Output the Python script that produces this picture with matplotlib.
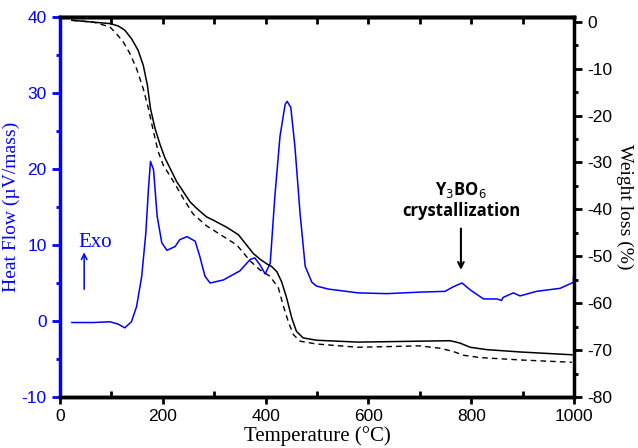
import numpy as np
import matplotlib.pyplot as plt
from matplotlib.ticker import MultipleLocator

plt.rcParams["axes.unicode_minus"] = False

# Heat flow (DTA), left axis
hf_T = [23, 65, 97, 113, 126, 139, 149, 159, 167, 172, 176, 182, 189, 198, 208, 224,
        233, 247, 263, 272, 282, 292, 318, 350, 370, 379, 389, 399, 409, 418, 428,
        438, 442, 449, 457, 467, 477, 490, 499, 522, 580, 636, 700, 749, 765, 782,
        798, 824, 850, 859, 862, 882, 895, 927, 973, 996, 999, 999]
hf_v = [-0.2, -0.2, -0.1, -0.4, -0.9, -0.1, 1.9, 5.9, 11.6, 17.3, 21.0, 19.9, 13.8, 10.3,
        9.3, 9.8, 10.7, 11.1, 10.5, 8.5, 5.9, 5.0, 5.4, 6.6, 8.1, 8.3, 7.4, 6.2, 7.6, 16.4,
        24.3, 28.5, 28.9, 28.1, 23.0, 14.2, 7.2, 5.1, 4.6, 4.2, 3.7, 3.6, 3.8, 3.9, 4.5,
        5.0, 4.1, 2.9, 2.9, 2.7, 3.1, 3.7, 3.3, 3.9, 4.3, 5.0, 5.1, 5.9]

# TGA, right axis: solid and dashed curves
tg1_T = [23, 65, 97, 113, 126, 139, 152, 162, 170, 176, 185, 195, 204, 227, 253, 266,
         285, 298, 324, 347, 363, 376, 389, 402, 412, 422, 431, 441, 451, 460, 473,
         499, 580, 700, 759, 778, 798, 830, 895, 996]
tg1_v = [0.3, -0.1, -0.4, -0.9, -1.8, -3.6, -6.1, -9.3, -13.5, -18.5, -22.8, -26.3, -29.0,
         -34.1, -38.4, -39.8, -41.6, -42.3, -43.8, -45.4, -47.6, -49.4, -50.6, -51.6,
         -52.2, -53.3, -55.4, -58.9, -63.2, -66.0, -67.4, -67.9, -68.3, -68.1, -68.0,
         -68.5, -69.4, -69.9, -70.4, -71.0]
tg2_T = [23, 65, 97, 110, 123, 136, 149, 162, 172, 182, 191, 201, 221, 240, 259, 285,
         318, 344, 370, 389, 409, 425, 434, 444, 454, 467, 499, 580, 700, 739, 765,
         785, 817, 895, 996]
tg2_v = [0.3, -0.1, -1.1, -2.6, -4.3, -6.8, -10.0, -14.3, -18.5, -23.5, -27.7, -30.6,
         -34.1, -37.7, -41.0, -43.5, -45.8, -47.6, -51.0, -52.9, -54.3, -56.8, -60.4,
         -63.9, -66.7, -68.1, -68.7, -69.4, -69.1, -69.6, -70.3, -71.1, -71.6, -72.1, -72.6]

fig = plt.figure(figsize=(6.38, 4.48), dpi=100)
ax = fig.add_axes([60 / 638, 1 - 397 / 448, 514 / 638, 380 / 448])
ax2 = ax.twinx()

ax.plot(hf_T, hf_v, color="blue", lw=1.1)
ax2.plot(tg1_T, tg1_v, color="black", lw=1.1)
ax2.plot(tg2_T, tg2_v, color="black", lw=1.0, ls=(0, (4, 3)))

ax.set_xlim(0, 1000)
ax.set_ylim(-10, 40)
ax2.set_ylim(-80, 1)

serif = "Liberation Serif"

ax.xaxis.set_major_locator(MultipleLocator(200))
ax.xaxis.set_minor_locator(MultipleLocator(100))
ax.yaxis.set_major_locator(MultipleLocator(10))
ax.yaxis.set_minor_locator(MultipleLocator(5))
ax2.yaxis.set_major_locator(MultipleLocator(10))
ax2.yaxis.set_minor_locator(MultipleLocator(5))

ax.tick_params(axis="x", which="major", direction="out", length=5, width=2, top=False)
ax.tick_params(axis="x", which="minor", direction="in", length=4, width=2, top=False)
ax.tick_params(axis="y", which="major", direction="out", length=6, width=2,
               color="blue", labelcolor="blue")
ax.tick_params(axis="y", which="minor", direction="out", length=3, width=2, color="blue")
ax2.tick_params(axis="y", which="major", direction="out", length=6, width=2)
ax2.tick_params(axis="y", which="minor", direction="out", length=3, width=2)

# inward ticks on the top spine
sec = ax.secondary_xaxis("top")
sec.xaxis.set_major_locator(MultipleLocator(200))
sec.xaxis.set_minor_locator(MultipleLocator(100))
sec.tick_params(which="both", direction="in", length=5, width=2, labeltop=False)
sec.spines["top"].set_linewidth(2.5)

for lab in ax.get_xticklabels() + ax.get_yticklabels() + ax2.get_yticklabels():
    lab.set_fontfamily("Liberation Sans")
    lab.set_fontsize(12.5)

for s in ["bottom", "top"]:
    ax.spines[s].set_linewidth(2.5)
ax2.spines["left"].set_color("blue")
ax2.spines["left"].set_linewidth(2.5)
ax2.spines["right"].set_linewidth(2.5)
ax2.spines["top"].set_linewidth(2.5)
ax2.spines["bottom"].set_linewidth(2.5)

ax.set_xlabel("Temperature (°C)", family=serif, size=15, labelpad=2)
ax.set_ylabel("Heat Flow (µV/mass)", family=serif, size=14, color="blue", labelpad=1)
ax2.set_ylabel("Weight loss (%)", family=serif, size=14, rotation=270, labelpad=15)

ax.text(35, 9.7, "Exo", family=serif, size=15, color="blue", ha="left", va="baseline")
ax.annotate("", xy=(47, 9.4), xytext=(47, 3.8),
            arrowprops=dict(arrowstyle="->", color="blue", lw=1.1))

ax2.text(780, -38.0, "Y$_3$BO$_6$\ncrystallization", family="Open Sans", weight="bold",
         size=12, ha="center", va="center", linespacing=1.15)
ax2.annotate("", xy=(780, -53.5), xytext=(780, -43.5),
             arrowprops=dict(arrowstyle="->", color="black", lw=1.5))

fig.savefig("out.png", dpi=100)
